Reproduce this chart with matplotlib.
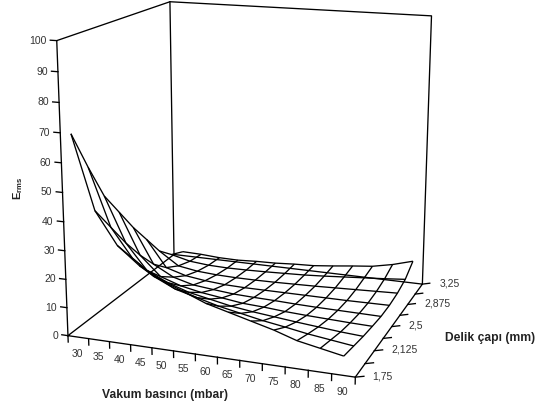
import numpy as np
import matplotlib
matplotlib.use("Agg")
import matplotlib.pyplot as plt
from mpl_toolkits.mplot3d import proj3d

plt.rcParams['font.family'] = ['Liberation Sans', 'DejaVu Sans']
plt.rcParams['mathtext.fontset'] = 'custom'
plt.rcParams['mathtext.bf'] = 'Liberation Sans:bold'

# vakum basinci (mbar), delik capi (mm)
vacuum = [30, 35, 40, 45, 50, 55, 60, 65, 70, 75, 80, 85, 90]
hole = [1.75, 1.9375, 2.125, 2.3125, 2.5, 2.6875, 2.875, 3.0625, 3.25]
hole_labels = ["1,75", "2,125", "2,5", "2,875", "3,25"]
z_ticks = [0, 10, 20, 30, 40, 50, 60, 70, 80, 90, 100]

# Erms, one row per hole diameter
erms = [
    [70, 45, 34, 28, 24, 21, 18, 16, 14, 12, 9.5, 8, 6.5],
    [56, 36, 26, 20.5, 17, 15, 13, 11.5, 10, 8.8, 7.5, 6.5, 5.5],
    [43, 27, 18, 14.5, 12, 10.5, 9, 8, 7.2, 6.4, 5.7, 5.0, 4.5],
    [34, 19, 12, 9.5, 8, 7, 6, 5.6, 5, 4.6, 4.3, 4.0, 3.8],
    [25, 12, 8, 6, 5.2, 4.5, 4.2, 4, 3.7, 3.5, 3.4, 3.3, 3.2],
    [17, 7, 4.8, 3.8, 3.2, 3, 3, 3, 3, 3, 3, 3.1, 3.2],
    [9, 4, 2.8, 2.3, 2.1, 2.1, 2.2, 2.4, 2.6, 2.9, 3.2, 3.5, 3.8],
    [4, 2.2, 1.5, 1.3, 1.4, 1.6, 1.9, 2.2, 2.7, 3.3, 3.9, 4.5, 5.2],
    [1.6, 1.4, 0.9, 0.8, 1.2, 1.4, 1.9, 2.2, 3, 3.9, 4.7, 6.3, 8.5],
]

W, H = 548, 408
fig = plt.figure(figsize=(W / 100, H / 100), dpi=100)
ax = fig.add_axes([10.6 / W, -7.4 / H, 474 / W, 474 / H], projection='3d')
ax.set_proj_type('persp', focal_length=0.54)
ax.view_init(elev=15.3, azim=-70)
ax.set_box_aspect((285, 257, 285))
ax.set_axis_off()

# x axis is categorical: each pressure sits in the middle of a 5 mbar cell
x0, x1 = vacuum[0] - 2.5, vacuum[-1] + 2.5
y0, y1 = hole[0], hole[-1]
ax.set_xlim(x0, x1, view_margin=0)
ax.set_ylim(y0, y1, view_margin=0)
ax.set_zlim(0, 100, view_margin=0)

X, Y = np.meshgrid(vacuum, hole)
ax.plot_wireframe(X, Y, np.array(erms), color='black', linewidth=0.95)

line = dict(color='black', linewidth=0.95, clip_on=False)
ax.plot([x0, x1, x1, x0, x0], [y0, y0, y1, y1, y0], [0, 0, 0, 0, 0], **line)
ax.plot([x0, x0, x0, x1, x1], [y0, y0, y1, y1, y1], [0, 100, 100, 100, 0], **line)
ax.plot([x0, x0], [y1, y1], [0, 100], **line)


def label(x, y, z, s, dx, dy, ha):
    # 3d point to 2d axes data, then an offset in pixels
    px, py, _ = proj3d.proj_transform(x, y, z, ax.get_proj())
    ax.annotate(s, (px, py), xytext=(dx * 0.72, dy * 0.72), textcoords='offset points',
                ha=ha, va='center', color='#333333', fontsize=7.5, annotation_clip=False)


for v in z_ticks:
    ax.plot([x0, x0 - 1.5], [y0, y0], [v, v], **line)
    label(x0, y0, v, str(v), -10, 0, 'right')

for t in np.arange(x0, x1 + 1, 5):
    ax.plot([t, t], [y0, y0], [0, -2.3], **line)
for v in vacuum:
    label(v, y0, 0, str(v), -1, -16.5, 'center')

for h in hole:
    ax.plot([x1, x1 + 1.8], [h, h], [0, 0.7], **line)
for h, s in zip(hole[::2], hole_labels):
    label(x1, h, 0, s, 17, 1, 'left')

lab = dict(color='#222222', fontsize=8.7, fontweight='bold')
fig.text(165 / W, 1 - 395 / H, "Vakum basıncı (mbar)", ha='center', va='center', **lab)
fig.text(490 / W, 1 - 338 / H, "Delik çapı (mm)", ha='center', va='center', **lab)
fig.text(18 / W, 1 - 188 / H, r'$\mathbf{E_{rms}}$', rotation=90, ha='center', va='center',
         color='#222222', fontsize=8)

fig.savefig("out.png", dpi=100)
